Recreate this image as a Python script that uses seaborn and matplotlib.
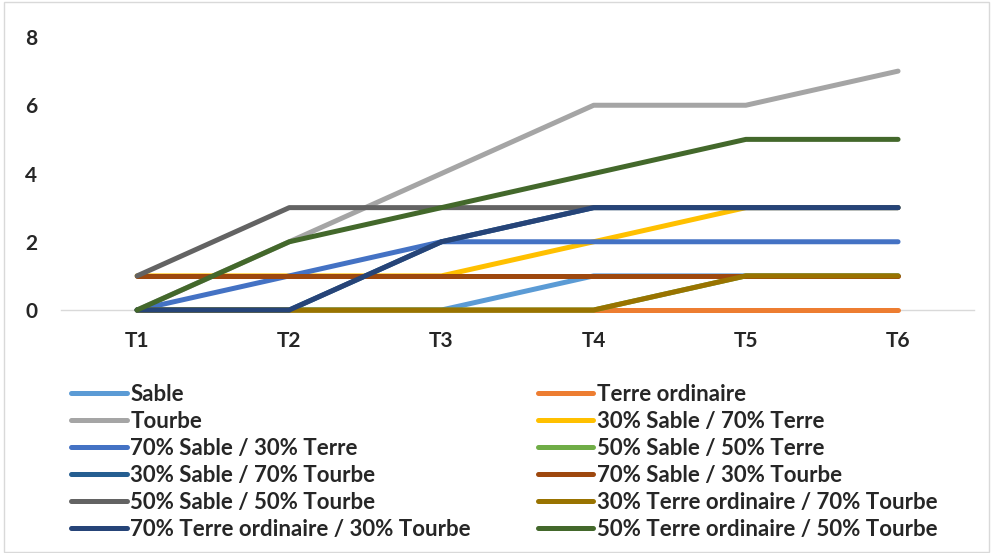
import pandas as pd
import matplotlib.pyplot as plt
import seaborn as sns
from matplotlib.patches import Rectangle

# data
temps = ["T1", "T2", "T3", "T4", "T5", "T6"]
series = [
    "Sable", "Terre ordinaire", "Tourbe",
    "30% Sable / 70% Terre", "70% Sable / 30% Terre", "50% Sable / 50% Terre",
    "30% Sable / 70% Tourbe", "70% Sable / 30% Tourbe", "50% Sable / 50% Tourbe",
    "30% Terre ordinaire / 70% Tourbe", "70% Terre ordinaire / 30% Tourbe",
    "50% Terre ordinaire / 50% Tourbe",
]
sable = [0, 0, 0, 1, 1, 1]
terre = [0, 0, 0, 0, 0, 0]
tourbe = [0, 2, 4, 6, 6, 7]
s30_t70 = [1, 1, 1, 2, 3, 3]
s70_t30 = [0, 1, 2, 2, 2, 2]
s50_t50 = [0, 0, 0, 0, 1, 1]
s30_to70 = [0, 0, 2, 3, 3, 3]
s70_to30 = [1, 1, 1, 1, 1, 1]
s50_to50 = [1, 3, 3, 3, 3, 3]
te30_to70 = [0, 0, 0, 0, 1, 1]
te70_to30 = [0, 0, 2, 3, 3, 3]
te50_to50 = [0, 2, 3, 4, 5, 5]
values = [sable, terre, tourbe, s30_t70, s70_t30, s50_t50,
          s30_to70, s70_to30, s50_to50, te30_to70, te70_to30, te50_to50]
colors = ["#5B9BD5", "#ED7D31", "#A5A5A5", "#FFC000", "#4472C4", "#70AD47",
          "#255E91", "#9E480E", "#636363", "#997300", "#264478", "#43682B"]

rows = []
for name, vals in zip(series, values):
    for t, v in zip(temps, vals):
        rows.append({"Temps": t, "Valeur": v, "Série": name})
df = pd.DataFrame(rows)

sns.set_style("white")
plt.rcParams["font.family"] = ["Lato", "DejaVu Sans"]

fig = plt.figure(figsize=(9.92, 5.53), dpi=100)
ax = fig.add_axes([0.0615, 0.4394, 0.9205, 0.4937])

sns.lineplot(data=df, x="Temps", y="Valeur", hue="Série", hue_order=series,
             palette=colors, sort=False, linewidth=3.6, ax=ax, legend=False)
for ln in ax.lines:
    ln.set_solid_capstyle("round")
    ln.set_solid_joinstyle("round")
    ln.set_clip_on(False)

ax.set_xlim(-0.5, 5.5)
ax.set_ylim(0, 8)
ax.set_yticks([0, 2, 4, 6, 8])
ax.set_xlabel("")
ax.set_ylabel("")
for s in ["top", "right", "left"]:
    ax.spines[s].set_visible(False)
ax.spines["bottom"].set_color("#D9D9D9")
ax.spines["bottom"].set_linewidth(1)
ax.spines["bottom"].set_zorder(0)
ax.tick_params(axis="both", length=0, labelsize=15)
ax.tick_params(axis="y", pad=17)
ax.tick_params(axis="x", pad=15)
for lab in ax.get_xticklabels() + ax.get_yticklabels():
    lab.set_fontweight("bold")

# legend in two columns, Excel row order
handles = ax.lines[:12]
left = [0, 2, 4, 6, 8, 10]
right = [1, 3, 5, 7, 9, 11]
for idx, x0 in [(left, 0.072), (right, 0.542)]:
    fig.legend([handles[i] for i in idx], [series[i] for i in idx],
               loc="upper left", bbox_to_anchor=(x0, 0.306), frameon=False,
               handlelength=2.5, handletextpad=0.15, labelspacing=0.27,
               borderaxespad=0, borderpad=0,
               prop={"weight": "bold", "size": 16})

fig.patches.append(Rectangle((0.004, 0.002), 0.993, 0.995, transform=fig.transFigure,
                             fill=False, edgecolor="#D9D9D9", linewidth=1))

plt.savefig("out.png", dpi=100)
